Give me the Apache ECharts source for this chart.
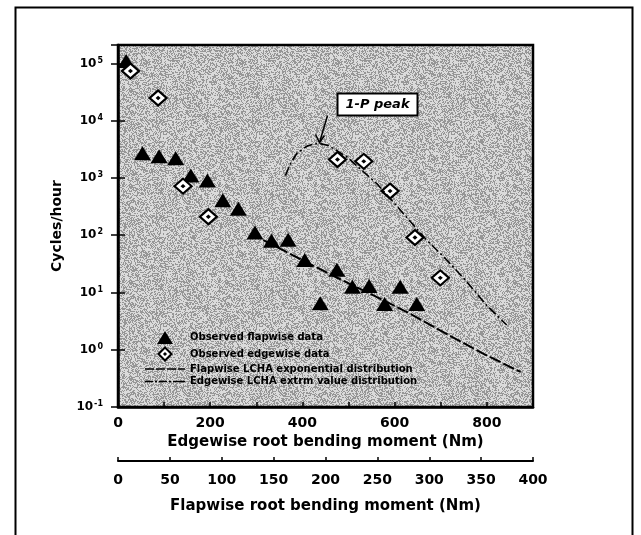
<!doctype html>
<html>
<head>
<meta charset="utf-8">
<title>Root bending moment cycles</title>
<script src="https://cdn.jsdelivr.net/npm/echarts@6/dist/echarts.min.js"></script>
</head>
<body style="margin:0;background:#fff;">
<div id="chart" style="width:641px;height:535px;"></div>
<script type="text/javascript">
    // observed flapwise data (x in flapwise Nm)
    var flapX = [7.9, 23.6, 39.6, 55.6, 70.2, 86.2, 101, 116, 132, 148, 164, 180, 195, 211, 226, 242, 257, 272, 288];
    var flapY = [110000, 2700, 2400, 2200, 1100, 900, 410, 290, 112, 80, 83, 37, 6.5, 25, 12.6, 13, 6.3, 12.6, 6.3];
    // observed edgewise data (x in edgewise Nm)
    var edgeX = [27, 87, 141, 196, 476, 533, 590, 644, 699];
    var edgeY = [74000, 25000, 720, 210, 2100, 1950, 590, 91, 18];
    // LCHA fits
    var flapFitX = [140, 204, 252, 278, 310, 351, 388];
    var flapFitY = [82, 21, 7.9, 4.6, 2.2, 0.87, 0.41];
    var edgeFitX = [363, 374, 388, 410, 424, 437, 456, 496, 525, 561, 597, 669, 713, 756, 799, 843];
    var edgeFitY = [1100, 1780, 2700, 3600, 3900, 4000, 3700, 2350, 1450, 800, 380, 83, 37, 15.5, 6.0, 2.7];
    var peak = [437, 4000];

    var names = ['Observed flapwise data', 'Observed edgewise data',
        'Flapwise LCHA exponential distribution', 'Edgewise LCHA extrm value distribution'];

    function pairs(xs, ys) {
        var out = [];
        for (var i = 0; i < xs.length; i++) out.push([xs[i], ys[i]]);
        return out;
    }

    // stippled plot background (deterministic hash, like the scanned screen tone)
    function stipple() {
        var c = document.createElement('canvas');
        c.width = 96; c.height = 96;
        var ctx = c.getContext('2d');
        var img = ctx.createImageData(96, 96);
        for (var y = 0; y < 96; y++) {
            for (var x = 0; x < 96; x++) {
                var h = (x * 374761393 + y * 668265263) | 0;
                h = Math.imul(h ^ (h >>> 13), 1274126177);
                h = (h ^ (h >>> 16)) >>> 0;
                var v = (h % 1000) < 450 ? 150 : 218;
                var k = (y * 96 + x) * 4;
                img.data[k] = img.data[k + 1] = img.data[k + 2] = v;
                img.data[k + 3] = 255;
            }
        }
        ctx.putImageData(img, 0, 0);
        return c;
    }

    var font = 'DejaVu Sans, Verdana, sans-serif';
    var diamond = 'path://M0,-10 L10,0 L0,10 L-10,0 Z M0,-1 L1,0 L0,1 L-1,0 Z';
    var triIcon = 'path://M0,-7 L8.5,7 L-8.5,7 Z';
    var dashIcon = 'path://M0,0h9v1.6h-9z M11,0h9v1.6h-9z M22,0h9v1.6h-9z M33,0h7v1.6h-7z';
    var dotDashIcon = 'path://M0,0h8v1.4h-8z M10,0h2v1.4h-2z M14,0h8v1.4h-8z M24,0h2v1.4h-2z M28,0h12v1.4h-12z';

    var chart = echarts.init(document.getElementById('chart'));
    var option = {
        animation: false,
        textStyle: {fontFamily: font, color: '#000'},
        grid: {
            left: 118, right: 108, top: 45, bottom: 128,
            show: true, backgroundColor: {image: stipple(), repeat: 'repeat'},
            borderColor: '#000', borderWidth: 2.5
        },
        legend: {
            data: [
                {name: names[0], icon: triIcon},
                {name: names[1], icon: diamond},
                {name: names[2], icon: dashIcon},
                {name: names[3], icon: dotDashIcon}
            ],
            orient: 'vertical',
            left: 140, top: 326,
            itemWidth: 40, itemHeight: 13, itemGap: 2.5,
            textStyle: {fontSize: 10, fontWeight: 'bold', color: '#000', fontFamily: font}
        },
        xAxis: [{
            type: 'value', min: 0, max: 900, interval: 100,
            name: 'Edgewise root bending moment (Nm)', nameLocation: 'middle', nameGap: 27,
            nameTextStyle: {fontSize: 15, fontWeight: 'bold', color: '#000'},
            axisLine: {lineStyle: {color: '#000', width: 2.5}},
            axisTick: {inside: true, length: 5, lineStyle: {color: '#000', width: 1.5}},
            axisLabel: {
                margin: 9, fontSize: 14, fontWeight: 'bold', color: '#000',
                formatter: function (v) { return v % 200 === 0 ? String(v) : ''; }
            },
            splitLine: {show: false}
        }, {
            type: 'value', min: 0, max: 400, interval: 50,
            position: 'bottom', offset: 54,
            name: 'Flapwise root bending moment (Nm)', nameLocation: 'middle', nameGap: 38,
            nameTextStyle: {fontSize: 15, fontWeight: 'bold', color: '#000'},
            axisLine: {onZero: false, lineStyle: {color: '#000', width: 2}},
            axisTick: {inside: true, length: 4, lineStyle: {color: '#000', width: 1.5}},
            axisLabel: {margin: 12, fontSize: 14, fontWeight: 'bold', color: '#000'},
            splitLine: {show: false}
        }],
        yAxis: [{
            type: 'log', logBase: 10, min: 0.1, max: 210000, splitNumber: 6,
            name: 'Cycles/hour', nameLocation: 'middle', nameGap: 54, nameRotate: 90,
            nameTextStyle: {fontSize: 14, fontWeight: 'bold', color: '#000'},
            axisLine: {lineStyle: {color: '#000', width: 2.5}},
            axisTick: {inside: true, length: 7, lineStyle: {color: '#000', width: 1.5}},
            axisLabel: {
                margin: 15, showMaxLabel: false,
                formatter: function (v) {
                    return '{b|10}{s|' + Math.round(Math.log10(v)) + '}';
                },
                rich: {
                    b: {fontSize: 12, fontWeight: 'bold', color: '#000', fontFamily: font},
                    s: {fontSize: 8, fontWeight: 'bold', color: '#000', fontFamily: font, verticalAlign: 'top', padding: [0, 0, 6, 1]}
                }
            },
            splitLine: {show: false}
        }, {
            type: 'log', logBase: 10, min: 0.1, max: 210000, splitNumber: 6,
            position: 'right',
            axisLine: {show: false},
            axisTick: {inside: true, length: 7, lineStyle: {color: '#000', width: 1.5}},
            axisLabel: {show: false},
            splitLine: {show: false}
        }],
        series: [{
            name: names[0], type: 'scatter', xAxisIndex: 1, yAxisIndex: 0,
            symbol: 'triangle', symbolSize: [17, 14],
            itemStyle: {color: '#000', opacity: 1},
            data: pairs(flapX, flapY)
        }, {
            name: names[1], type: 'scatter', xAxisIndex: 0, yAxisIndex: 0,
            symbol: diamond, symbolSize: [17, 15],
            itemStyle: {color: '#fff', borderColor: '#000', borderWidth: 2.2, opacity: 1},
            data: pairs(edgeX, edgeY)
        }, {
            name: names[2], type: 'line', xAxisIndex: 1, yAxisIndex: 0,
            symbol: 'none',
            lineStyle: {color: '#000', width: 2, type: [12, 3]},
            itemStyle: {color: '#000'},
            data: pairs(flapFitX, flapFitY)
        }, {
            name: names[3], type: 'line', xAxisIndex: 0, yAxisIndex: 0,
            symbol: 'none',
            lineStyle: {color: '#000', width: 1.6, type: [9, 3, 2, 3]},
            itemStyle: {color: '#000'},
            data: pairs(edgeFitX, edgeFitY)
        }]
    };
    chart.setOption(option);

    // annotation box + arrow anchored on the edgewise fit peak
    var p = chart.convertToPixel({xAxisIndex: 0, yAxisIndex: 0}, peak);
    chart.setOption({
        graphic: [{
            type: 'rect', left: 13, top: 5, silent: true,
            shape: {width: 617, height: 545},
            style: {fill: 'none', stroke: '#000', lineWidth: 2}
        }, {
            type: 'line', silent: true,
            shape: {x1: p[0] + 8, y1: p[1] - 28, x2: p[0], y2: p[1] - 1},
            style: {stroke: '#000', lineWidth: 1.5}
        }, {
            type: 'polyline', silent: true,
            shape: {points: [[p[0] - 4, p[1] - 9], [p[0], p[1] - 1], [p[0] + 5, p[1] - 8]]},
            style: {stroke: '#000', lineWidth: 1.5, fill: 'none'}
        }, {
            type: 'rect', silent: true, x: p[0] + 18, y: p[1] - 50,
            shape: {width: 80, height: 22},
            style: {fill: '#fff', stroke: '#000', lineWidth: 2}
        }, {
            type: 'text', silent: true, x: p[0] + 58, y: p[1] - 39,
            style: {
                text: '1-P peak', fill: '#000', align: 'center', verticalAlign: 'middle',
                font: 'italic bold 13px DejaVu Sans, Verdana, sans-serif'
            }
        }]
    });
</script>
</body>
</html>
